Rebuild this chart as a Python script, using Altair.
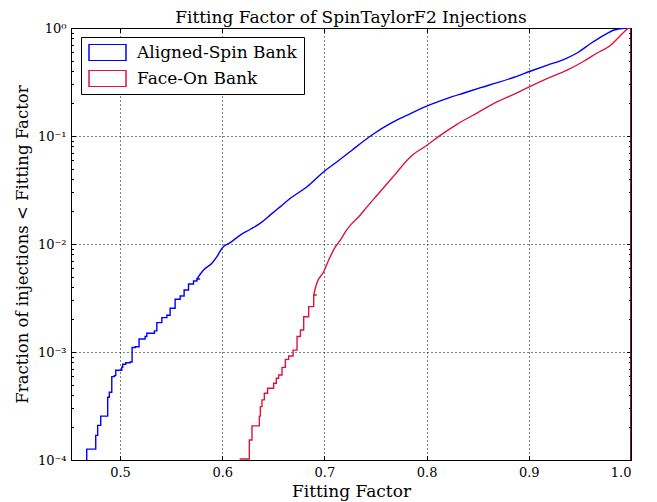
import altair as alt
import pandas as pd

# Aligned-Spin Bank: stepped low tail, smooth middle, final drop at FF = 1
aligned_low_ff = [0.4674, 0.4674, 0.4762, 0.4781, 0.4811, 0.4879, 0.4895, 0.4919, 0.4944, 0.4958,
                  0.5017, 0.5026, 0.5056, 0.5098, 0.5118, 0.5150, 0.5186, 0.5245, 0.5262, 0.5336,
                  0.5360, 0.5409, 0.5458, 0.5490, 0.5539, 0.5588, 0.5627, 0.5670, 0.5719, 0.5752, 0.5784]
aligned_low_frac = [1.0e-4, 1.26e-4, 1.69e-4, 2.09e-4, 2.55e-4, 3.81e-4, 4.24e-4, 5.91e-4, 6.04e-4, 6.78e-4,
                    7.22e-4, 7.69e-4, 7.96e-4, 8.08e-4, 1.10e-3, 1.12e-3, 1.32e-3, 1.39e-3, 1.49e-3, 1.57e-3,
                    1.87e-3, 2.08e-3, 2.19e-3, 2.54e-3, 3.08e-3, 3.30e-3, 3.75e-3, 4.26e-3, 4.54e-3, 4.74e-3, 4.74e-3]
aligned_mid_ff = [0.5752, 0.5817, 0.5899, 0.5948, 0.5997, 0.6078, 0.6176, 0.6275, 0.6373, 0.6471,
                  0.6569, 0.6667, 0.6830, 0.6993, 0.7124, 0.7272, 0.7385, 0.7483, 0.7647, 0.7811, 0.8007,
                  0.8203, 0.8366, 0.8529, 0.8693, 0.8856, 0.9020, 0.9183, 0.9346, 0.9477, 0.9608,
                  0.9738, 0.9836, 0.9934, 0.9983, 1.0]
aligned_mid_frac = [4.74e-3, 5.74e-3, 6.63e-3, 7.63e-3, 9.12e-3, 1.03e-2, 1.21e-2, 1.37e-2, 1.56e-2, 1.86e-2,
                    2.22e-2, 2.65e-2, 3.39e-2, 4.67e-2, 5.78e-2, 7.42e-2, 9.00e-2, 0.105, 0.131, 0.156, 0.190,
                    0.223, 0.250, 0.280, 0.312, 0.350, 0.400, 0.454, 0.513, 0.590, 0.722,
                    0.861, 0.958, 0.995, 1.0, 1.0]
aligned_drop_ff = [1.0, 1.0]
aligned_drop_frac = [1.0, 1.0e-4]

# Face-On Bank
faceon_low_ff = [0.6170, 0.6265, 0.6291, 0.6363, 0.6373, 0.6389, 0.6412, 0.6444, 0.6503, 0.6529,
                 0.6552, 0.6585, 0.6618, 0.6650, 0.6693, 0.6732, 0.6765, 0.6797, 0.6846, 0.6895, 0.6925]
faceon_low_frac = [1.02e-4, 1.53e-4, 2.07e-4, 2.55e-4, 3.12e-4, 3.60e-4, 4.15e-4, 4.61e-4, 5.13e-4, 5.71e-4,
                   6.12e-4, 7.21e-4, 8.55e-4, 9.18e-4, 1.04e-3, 1.39e-3, 1.60e-3, 2.12e-3, 2.63e-3, 3.37e-3, 3.37e-3]
faceon_mid_ff = [0.6895, 0.6925, 0.6993, 0.7042, 0.7108, 0.7157, 0.7206, 0.7272, 0.7336, 0.7419,
                 0.7517, 0.7630, 0.7679, 0.7843, 0.8007, 0.8137,
                 0.8301, 0.8497, 0.8693, 0.8889, 0.9020, 0.9183, 0.9379, 0.9542, 0.9673, 0.9804,
                 0.9870, 0.9934, 0.9983, 1.0]
faceon_mid_frac = [3.37e-3, 4.33e-3, 5.54e-3, 7.11e-3, 9.44e-3, 1.09e-2, 1.30e-2, 1.56e-2, 1.79e-2, 2.22e-2,
                   2.84e-2, 3.77e-2, 4.27e-2, 6.43e-2, 8.26e-2, 0.102,
                   0.129, 0.164, 0.208, 0.252, 0.290, 0.342, 0.409, 0.495, 0.590, 0.696,
                   0.803, 0.924, 1.0, 1.0]
faceon_drop_ff = [1.0, 1.0]
faceon_drop_frac = [1.0, 1.0e-4]

banks = ["Aligned-Spin Bank", "Face-On Bank"]
colors = ["#0000ff", "#dc143c"]
x_ticks = [0.5, 0.6, 0.7, 0.8, 0.9, 1.0]
y_ticks = [1e-4, 1e-3, 1e-2, 1e-1, 1.0]
y_minor = [m * 10.0 ** e for e in range(-4, 0) for m in range(2, 10)]

rows = []
series = [
    (banks[0], "low", aligned_low_ff, aligned_low_frac),
    (banks[0], "mid", aligned_mid_ff, aligned_mid_frac),
    (banks[0], "drop", aligned_drop_ff, aligned_drop_frac),
    (banks[1], "low", faceon_low_ff, faceon_low_frac),
    (banks[1], "mid", faceon_mid_ff, faceon_mid_frac),
    (banks[1], "drop", faceon_drop_ff, faceon_drop_frac),
]
for bank, part, ffs, frs in series:
    for ff, fr in zip(ffs, frs):
        rows.append(dict(ff=ff, frac=fr, bank=bank, part=part, order=len(rows)))
df = pd.DataFrame(rows)

W, H = 560, 432
FONT = "DejaVu Serif"
xs = alt.Scale(domain=[0.452, 1.0], zero=False, nice=False)
ys = alt.Scale(type="log", domain=[1e-4, 1.0], nice=False)

ylabel = ("datum.value >= 0.5 ? '10⁰' : datum.value >= 0.05 ? '10⁻¹' : datum.value >= 0.005 ? '10⁻²' : "
          "datum.value >= 0.0005 ? '10⁻³' : '10⁻⁴'")

color = alt.Color("bank:N", scale=alt.Scale(domain=banks, range=colors),
                  legend=alt.Legend(title=None, orient="none", legendX=10, legendY=9,
                                    symbolType="M-1,-0.45H1V0.45H-1Z", symbolSize=1369,
                                    symbolStrokeWidth=1.5, symbolFillColor="white",
                                    clipHeight=17, rowPadding=8, padding=7, labelOffset=10,
                                    labelFont=FONT, labelFontSize=17, labelColor="black",
                                    strokeColor="black", fillColor="white", cornerRadius=0))

base = alt.Chart(df)

low_lines = base.transform_filter("datum.part == 'low'").mark_line(
    interpolate="step-after", clip=True, strokeWidth=1.4).encode(
    x=alt.X("ff:Q", scale=xs, axis=alt.Axis(values=x_ticks, format=".1f", title="Fitting Factor",
                                           grid=True, ticks=False, domain=False, labelPadding=6,
                                           titlePadding=4, titleFontSize=17)),
    y=alt.Y("frac:Q", scale=ys, axis=alt.Axis(values=y_ticks, labelExpr=ylabel,
                                             title="Fraction of injections < Fitting Factor",
                                             grid=True, ticks=False, domain=False, labelPadding=5,
                                             titlePadding=7, titleFontSize=16.5)),
    color=color, detail="bank:N", order="order:Q")

mid_lines = base.transform_filter("datum.part == 'mid'").mark_line(
    interpolate="monotone", clip=True, strokeWidth=1.4).encode(
    x=alt.X("ff:Q", scale=xs, axis=None),
    y=alt.Y("frac:Q", scale=ys, axis=None),
    color=color, detail="bank:N", order="order:Q")

drop_lines = base.transform_filter("datum.part == 'drop'").mark_line(
    clip=True, strokeWidth=1.6, color="#6e1030").encode(
    x=alt.X("ff:Q", scale=xs, axis=None),
    y=alt.Y("frac:Q", scale=ys, axis=None),
    detail="bank:N", order="order:Q")


def tick_layer(xorient, xoff, yorient, yoff, yvals, ysize, xsize):
    xa = alt.Axis(orient=xorient, offset=xoff, values=x_ticks, labels=False, grid=False,
                  domain=False, ticks=True, tickSize=xsize, title=None) if xorient else None
    ya = alt.Axis(orient=yorient, offset=yoff, values=yvals, labels=False, grid=False,
                  domain=False, ticks=True, tickSize=ysize, title=None)
    return base.mark_point(opacity=0).encode(
        x=alt.X("ff:Q", scale=xs, axis=xa),
        y=alt.Y("frac:Q", scale=ys, axis=ya))


t1 = tick_layer("top", -H, "right", -W, y_ticks, 4.5, 4.5)
t2 = tick_layer("bottom", -H, "right", -W, y_minor, 2.5, 4.5)
t3 = tick_layer(None, 0, "left", -W, y_ticks, 4.5, 0)
t4 = tick_layer(None, 0, "left", -W, y_minor, 2.5, 0)

chart = alt.layer(low_lines, mid_lines, drop_lines, t1, t2, t3, t4).resolve_axis(
    x="independent", y="independent"
).properties(
    width=W, height=H,
    title=alt.TitleParams("Fitting Factor of SpinTaylorF2 Injections", font=FONT, fontSize=17,
                          fontWeight="normal", color="black", anchor="middle", offset=7,
                          frame="group", dy=12),
    autosize=alt.AutoSizeParams(type="none"),
    padding={"left": 63, "top": 20, "right": 18, "bottom": 42},
).configure_view(stroke="black", strokeWidth=1).configure_axis(
    labelFont=FONT, labelFontSize=13, labelColor="black", titleFont=FONT, titleFontSize=16,
    titleFontWeight="normal", titleColor="black", gridColor="black", gridDash=[1, 3],
    gridOpacity=1, gridWidth=1, tickColor="black", tickWidth=1
)

chart.save("out.html", embed_options={"renderer": "svg", "actions": False})
